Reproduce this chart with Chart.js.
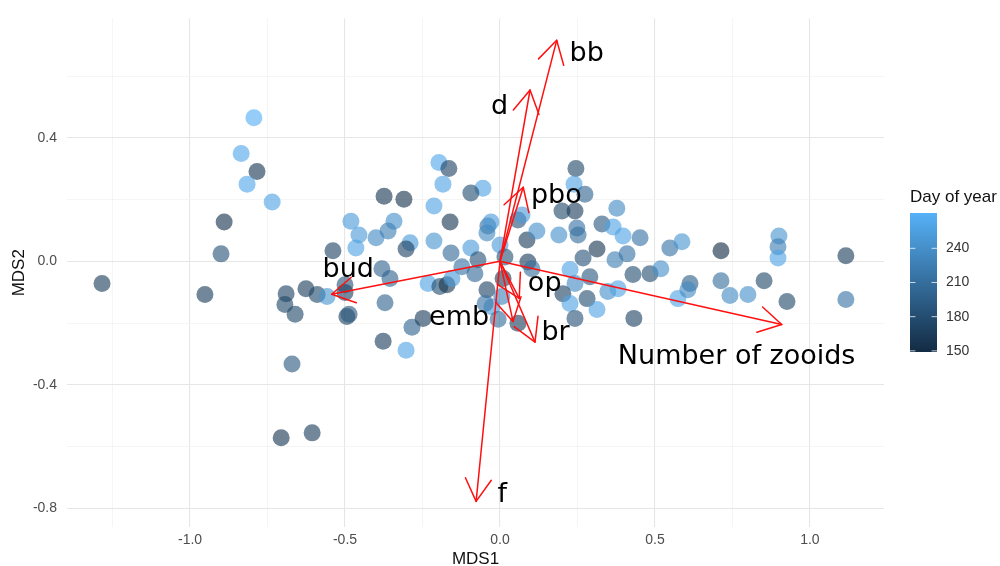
<!DOCTYPE html>
<html><head><meta charset="utf-8">
<script src="https://cdn.jsdelivr.net/npm/chart.js@4"></script>
<style>html,body{margin:0;padding:0;background:#fff}#wrap{width:1000px;height:566px}</style>
</head><body><div id="wrap"><canvas id="c" width="1000" height="566"></canvas></div>
<script>
// ---- data ----
const mds1 = [
-0.794,-0.835,-0.784,-0.816,-0.735,-0.890,-0.900,-0.374,-0.310,-0.481,
-0.455,-0.400,-0.342,-0.361,-0.290,-0.303,-0.465,-0.539,-0.197,-0.165,
-0.184,-0.055,-0.094,-0.213,-0.161,-0.213,-0.158,-0.094,-0.071,-0.039,
-0.029,-0.042,-0.381,-0.355,-1.284,-0.232,-0.194,-0.171,-0.123,-0.081,
-0.155,-0.952,-0.690,-0.694,-0.661,-0.626,-0.590,-0.558,-0.500,-0.500,
-0.494,-0.487,-0.371,-0.377,-0.303,-0.284,-0.248,-0.671,-0.706,-0.606,
0.000,0.016,0.090,0.103,0.010,-0.042,0.006,-0.026,-0.006,-0.048,
0.058,0.058,0.071,0.087,0.119,0.245,0.239,0.274,0.200,0.242,
0.377,0.329,0.365,0.248,0.397,0.452,0.190,0.252,0.548,0.587,
0.313,0.268,0.371,0.410,0.429,0.484,0.519,0.226,0.242,0.290,
0.348,0.381,0.203,0.281,0.226,0.313,0.242,0.432,0.574,0.713,
0.900,0.897,0.897,1.116,0.613,0.606,0.713,0.742,0.800,0.852,
0.926,1.116];
const mds2 = [
0.465,0.349,0.291,0.250,0.192,0.127,0.024,0.211,0.201,0.130,
0.085,0.076,0.130,0.098,0.060,0.040,0.043,0.034,0.320,0.301,
0.250,0.237,0.221,0.179,0.127,0.066,0.027,0.043,0.005,0.114,
0.127,0.092,-0.024,-0.056,-0.072,-0.072,-0.082,-0.076,-0.018,-0.040,
-0.056,-0.108,-0.105,-0.140,-0.172,-0.089,-0.108,-0.114,-0.076,-0.101,
-0.179,-0.172,-0.134,-0.259,-0.288,-0.214,-0.185,-0.333,-0.572,-0.556,
0.053,0.014,-0.002,-0.024,-0.056,-0.092,-0.114,-0.147,-0.188,-0.137,
-0.201,0.134,0.150,0.069,0.098,0.301,0.250,0.217,0.163,0.163,
0.172,0.121,0.111,0.108,0.082,0.076,0.085,0.085,0.043,0.063,
0.040,0.011,0.005,0.024,-0.043,-0.040,-0.024,-0.027,-0.072,-0.050,
-0.098,-0.089,-0.105,-0.121,-0.137,-0.156,-0.185,-0.185,-0.121,0.034,
0.082,0.047,0.011,0.018,-0.072,-0.092,-0.063,-0.111,-0.108,-0.063,
-0.130,-0.124];
const dayOfYear = [
268,262,160,262,258,155,185,160,155,250,
250,235,240,225,250,170,258,170,262,170,
258,258,180,258,160,245,205,250,185,210,
250,235,200,200,165,258,180,160,215,205,
250,165,170,175,175,165,175,245,185,170,
170,190,200,165,258,200,165,190,160,165,
250,185,165,210,165,170,230,250,210,215,
165,185,250,165,240,175,258,200,175,165,
235,190,258,215,258,215,240,210,215,245,
160,185,225,215,180,180,240,258,235,190,
240,258,170,180,258,258,185,170,258,150,
245,225,258,165,195,235,210,235,240,175,
175,215];

const vecNames = ["bb","d","pbo","bud","op","emb","br","Number of zooids","f"];
const vecX   = [0.183, 0.097, 0.075, -0.543, 0.062, 0.042, 0.113, 0.909, -0.077];
const vecY   = [0.716, 0.555, 0.240, -0.107, -0.120, -0.195, -0.262, -0.205, -0.778];
const labX   = [0.281, -0.003, 0.184, -0.490, 0.144, -0.132, 0.184, 0.765, 0.010];
const labY   = [0.681, 0.510, 0.213, -0.019, -0.082, -0.175, -0.222, -0.300, -0.747];

const xTicks = [-1.25,-1.0,-0.75,-0.5,-0.25,0,0.25,0.5,0.75,1.0];
const yTicks = [-0.8,-0.6,-0.4,-0.2,0,0.2,0.4,0.6];
const legendTicks = [150,180,210,240];
const DAY_MIN = 149, DAY_MAX = 271;

// ---- styling helpers ----
const LOW = [19,43,67], HIGH = [86,177,247];
function dayRGB(d){
  const t = Math.max(0, Math.min(1, (d-DAY_MIN)/(DAY_MAX-DAY_MIN)));
  return LOW.map((l,i)=>Math.round(l+(HIGH[i]-l)*t));
}
function isMajor(v, step){ const q=v/step; return Math.abs(q-Math.round(q))<1e-6; }

const points = mds1.map((x,i)=>({x:x, y:mds2[i]}));
const colors = dayOfYear.map(d=>`rgba(${dayRGB(d).join(',')},0.62)`);

const overlay = {
  id:'overlay',
  afterDatasetsDraw(chart){
    const {ctx} = chart; const xs = chart.scales.x, ys = chart.scales.y;
    const ox = xs.getPixelForValue(0), oy = ys.getPixelForValue(0);
    ctx.save();
    ctx.strokeStyle = '#ff1010'; ctx.lineWidth = 1.5; ctx.lineCap='round'; ctx.lineJoin='round';
    const headLen = 26, headAng = Math.PI/6;
    for (let i=0;i<vecNames.length;i++){
      const tx = xs.getPixelForValue(vecX[i]), ty = ys.getPixelForValue(vecY[i]);
      ctx.beginPath(); ctx.moveTo(ox,oy); ctx.lineTo(tx,ty); ctx.stroke();
      const a = Math.atan2(ty-oy, tx-ox) + Math.PI;
      ctx.beginPath();
      ctx.moveTo(tx+headLen*Math.cos(a+headAng), ty+headLen*Math.sin(a+headAng));
      ctx.lineTo(tx,ty);
      ctx.lineTo(tx+headLen*Math.cos(a-headAng), ty+headLen*Math.sin(a-headAng));
      ctx.stroke();
    }
    ctx.fillStyle = '#000'; ctx.font = '27px "DejaVu Sans"'; ctx.textBaseline='alphabetic'; ctx.textAlign='left';
    for (let i=0;i<vecNames.length;i++){
      const cx = xs.getPixelForValue(labX[i]), cy = ys.getPixelForValue(labY[i]);
      const m = ctx.measureText(vecNames[i]);
      const w = m.actualBoundingBoxRight + m.actualBoundingBoxLeft;
      const h = m.actualBoundingBoxAscent + m.actualBoundingBoxDescent;
      ctx.fillText(vecNames[i], cx - w/2 + m.actualBoundingBoxLeft, cy + h/2 - m.actualBoundingBoxDescent);
    }
    // colour bar legend
    const bx0 = 910, bx1 = 937, by0 = 213, by1 = 352;
    ctx.font = '17px "Liberation Sans"'; ctx.fillStyle = '#111';
    ctx.fillText('Day of year', 910, 202);
    const g = ctx.createLinearGradient(0, by1, 0, by0);
    for (let k=0;k<=10;k++){ const d = DAY_MIN + (DAY_MAX-DAY_MIN)*k/10; g.addColorStop(k/10, `rgb(${dayRGB(d).join(',')})`); }
    ctx.fillStyle = g; ctx.fillRect(bx0, by0, bx1-bx0, by1-by0);
    ctx.font = '14px "Liberation Sans"'; ctx.textBaseline = 'middle';
    legendTicks.forEach(v=>{
      const ty = by1 - (v-DAY_MIN)/(DAY_MAX-DAY_MIN)*(by1-by0);
      ctx.strokeStyle = 'rgba(255,255,255,0.75)'; ctx.lineWidth = 1;
      ctx.beginPath(); ctx.moveTo(bx0,ty); ctx.lineTo(bx0+5,ty); ctx.moveTo(bx1-5,ty); ctx.lineTo(bx1,ty); ctx.stroke();
      ctx.fillStyle = '#333'; ctx.fillText(String(v), 946, ty);
    });
    ctx.restore();
  }
};

new Chart(document.getElementById('c'), {
  type:'scatter',
  data:{ datasets:[{ data: points, backgroundColor: colors, borderWidth:0, pointRadius:8.5, pointHoverRadius:8.5 }] },
  options:{
    responsive:false, animation:false, devicePixelRatio:1, events:[],
    layout:{ padding:{ top:15, right:116, left:0, bottom:0 } },
    plugins:{ legend:{display:false}, tooltip:{enabled:false} },
    scales:{
      x:{ type:'linear', min:-1.397, max:1.239,
        afterBuildTicks: s=>{ s.ticks = xTicks.map(v=>({value:v})); },
        afterFit: s=>{ s.height = 39; },
        border:{display:false},
        grid:{ drawTicks:false,
          color: c=> (c.tick && isMajor(c.tick.value,0.5)) ? '#e6e6e6' : '#f0f0f0',
          lineWidth: c=> (c.tick && isMajor(c.tick.value,0.5)) ? 1.1 : 0.7 },
        ticks:{ padding:5, autoSkip:false, maxRotation:0, color:'#4d4d4d', font:{family:'Liberation Sans', size:14},
          callback: v=> isMajor(v,0.5) ? (Math.abs(v)<1e-9?0:v).toFixed(1) : '' },
        title:{ display:true, text:'MDS1', color:'#111', font:{family:'Liberation Sans', size:17, lineHeight:1}, padding:{top:0,bottom:-2} }
      },
      y:{ type:'linear', min:-0.861, max:0.787,
        afterBuildTicks: s=>{ s.ticks = yTicks.map(v=>({value:v})); },
        afterFit: s=>{ s.width = 67; },
        border:{display:false},
        grid:{ drawTicks:false,
          color: c=> (c.tick && isMajor(c.tick.value,0.4)) ? '#e6e6e6' : '#f0f0f0',
          lineWidth: c=> (c.tick && isMajor(c.tick.value,0.4)) ? 1.1 : 0.7 },
        ticks:{ padding:10, autoSkip:false, color:'#4d4d4d', font:{family:'Liberation Sans', size:14},
          callback: v=> isMajor(v,0.4) ? (Math.abs(v)<1e-9?0:v).toFixed(1) : '' },
        title:{ display:true, text:'MDS2', color:'#111', font:{family:'Liberation Sans', size:17, lineHeight:1}, padding:{top:11,bottom:0} }
      }
    }
  },
  plugins:[overlay]
});
</script></body></html>
